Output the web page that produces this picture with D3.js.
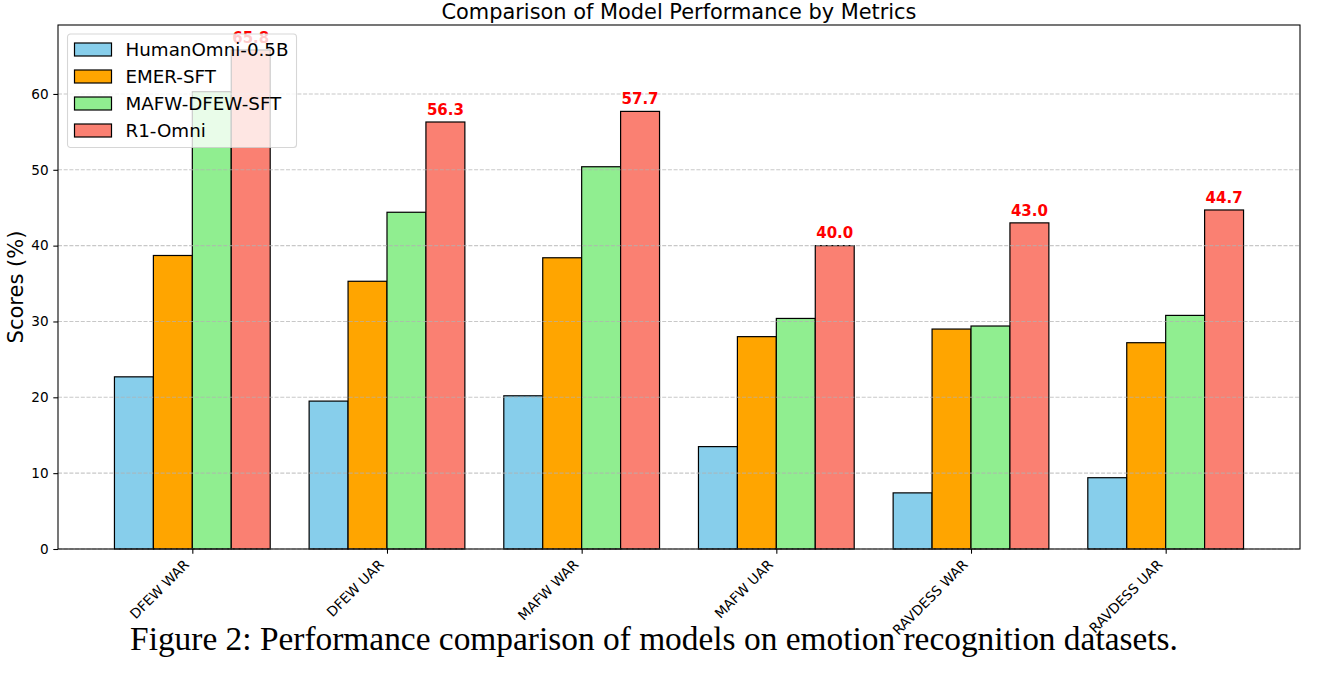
<!DOCTYPE html>
<html>
<head>
<meta charset="utf-8">
<script src="https://cdn.jsdelivr.net/npm/d3@7"></script>
<style>
  body { margin: 0; background: #fff; }
  svg text { font-family: "DejaVu Sans", sans-serif; }
</style>
</head>
<body>
<div id="chart"></div>
<script>
const width = 1318;
const height = 674;
const margin = { top: 25, left: 58, bottom: 125, right: 18 };
const iwidth = width - margin.left - margin.right;
const iheight = height - margin.top - margin.bottom;

// data
const categories = ["DFEW WAR", "DFEW UAR", "MAFW WAR", "MAFW UAR", "RAVDESS WAR", "RAVDESS UAR"];
const models = ["HumanOmni-0.5B", "EMER-SFT", "MAFW-DFEW-SFT", "R1-Omni"];
const humanOmni = [22.7, 19.5, 20.2, 13.5, 7.4, 9.4];
const emerSft = [38.7, 35.3, 38.4, 28.0, 29.0, 27.2];
const mafwDfewSft = [60.3, 44.4, 50.4, 30.4, 29.4, 30.8];
const r1Omni = [65.8, 56.3, 57.7, 40.0, 43.0, 44.7];
const yTicks = [0, 10, 20, 30, 40, 50, 60];
const colors = ["#87CEEB", "#FFA500", "#90EE90", "#FA8072"];

const series = [humanOmni, emerSft, mafwDfewSft, r1Omni];
const barW = 0.2;

const svg = d3.select("#chart").append("svg")
  .attr("width", width)
  .attr("height", height);

svg.append("rect").attr("width", width).attr("height", height).attr("fill", "#fff");

const g = svg.append("g").attr("transform", `translate(${margin.left},${margin.top})`);

// matplotlib style 5% margins on x, sticky zero on y
const x0 = -0.4, x1 = categories.length - 1 + 0.4;
const xpad = (x1 - x0) * 0.05;
const x = d3.scaleLinear()
  .domain([x0 - xpad, x1 + xpad])
  .range([0, iwidth]);

const ymax = d3.max(series.flat()) * 1.05;
const y = d3.scaleLinear()
  .domain([0, ymax])
  .range([iheight, 0]);

// bars
series.forEach((vals, s) => {
  const off = (s - 1.5) * barW;
  g.selectAll(".bar" + s)
    .data(vals)
    .enter().append("rect")
    .attr("class", "bar" + s)
    .attr("x", (d, i) => x(i + off - barW / 2))
    .attr("width", x(barW) - x(0))
    .attr("y", d => y(d))
    .attr("height", d => y(0) - y(d))
    .attr("fill", colors[s])
    .attr("stroke", "#000")
    .attr("stroke-width", 1.2);
});

// grid on y (drawn above bars like matplotlib)
g.append("g")
  .selectAll("line")
  .data(yTicks)
  .enter().append("line")
  .attr("x1", 0).attr("x2", iwidth)
  .attr("y1", d => y(d)).attr("y2", d => y(d))
  .attr("stroke", "#b0b0b0")
  .attr("stroke-opacity", 0.7)
  .attr("stroke-width", 1.07)
  .attr("stroke-dasharray", "4,1.7");

// axes
const yAxis = g.append("g")
  .call(d3.axisLeft(y).tickValues(yTicks).tickSize(4.7).tickPadding(4.7).tickFormat(d3.format("d")));
yAxis.select(".domain").remove();
yAxis.selectAll("line").attr("stroke", "#000").attr("stroke-width", 1.07);
yAxis.selectAll("text")
  .attr("font-family", "DejaVu Sans")
  .attr("font-size", 13.6)
  .attr("fill", "#000");

const xAxis = g.append("g")
  .attr("transform", `translate(0,${iheight})`)
  .call(d3.axisBottom(x).tickValues(d3.range(categories.length)).tickSize(4.7).tickFormat(""));
xAxis.select(".domain").remove();
xAxis.selectAll("line").attr("stroke", "#000").attr("stroke-width", 1.07);

// rotated category labels, ha=right
g.append("g")
  .selectAll("text")
  .data(categories)
  .enter().append("text")
  .attr("transform", (d, i) => `translate(${x(i) - 2.3},${iheight + 16.6}) rotate(-45)`)
  .attr("text-anchor", "end")
  .attr("font-size", 13.7)
  .attr("fill", "#000")
  .text(d => d);

// frame
g.append("rect")
  .attr("width", iwidth)
  .attr("height", iheight)
  .attr("fill", "none")
  .attr("stroke", "#000")
  .attr("stroke-width", 1.07);

// value labels on R1-Omni
g.selectAll(".val")
  .data(r1Omni)
  .enter().append("text")
  .attr("class", "val")
  .attr("x", (d, i) => x(i + 1.5 * barW))
  .attr("y", d => y(d + 0.5) - 3.4)
  .attr("text-anchor", "middle")
  .attr("font-size", 15)
  .attr("font-weight", "bold")
  .attr("fill", "#ff0000")
  .text(d => d.toFixed(1));

// title and y label
svg.append("text")
  .attr("x", margin.left + iwidth / 2)
  .attr("y", 19)
  .attr("text-anchor", "middle")
  .attr("font-size", 20.9)
  .attr("fill", "#000")
  .text("Comparison of Model Performance by Metrics");

svg.append("text")
  .attr("transform", `translate(22.5,${margin.top + iheight / 2}) rotate(-90)`)
  .attr("text-anchor", "middle")
  .attr("font-size", 21)
  .attr("fill", "#000")
  .text("Scores (%)");

// legend
const lg = g.append("g").attr("transform", "translate(9.5,9)");
lg.append("rect")
  .attr("width", 229)
  .attr("height", 113.5)
  .attr("rx", 3)
  .attr("fill", "#fff")
  .attr("fill-opacity", 0.8)
  .attr("stroke", "#cccccc")
  .attr("stroke-opacity", 0.8)
  .attr("stroke-width", 1.07);

const items = lg.selectAll(".item")
  .data(models)
  .enter().append("g")
  .attr("transform", (d, i) => `translate(7,${15.5 + i * 27})`);
items.append("rect")
  .attr("x", 0).attr("y", -6.5)
  .attr("width", 37).attr("height", 13)
  .attr("fill", (d, i) => colors[i])
  .attr("stroke", "#000")
  .attr("stroke-width", 1.2);
items.append("text")
  .attr("x", 51)
  .attr("y", 6.5)
  .attr("font-size", 18.3)
  .attr("fill", "#000")
  .text(d => d);

// figure caption
svg.append("text")
  .attr("x", 654)
  .attr("y", 650)
  .attr("text-anchor", "middle")
  .style("font-family", "'Liberation Serif', serif")
  .attr("font-size", 33.4)
  .attr("fill", "#000")
  .text("Figure 2: Performance comparison of models on emotion recognition datasets.");
</script>
</body>
</html>
